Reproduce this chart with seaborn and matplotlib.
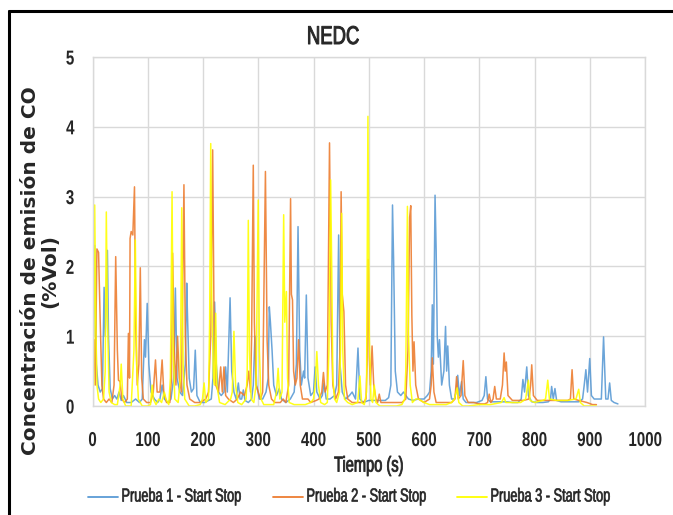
import numpy as np
import pandas as pd
import matplotlib
matplotlib.use("Agg")
import matplotlib.pyplot as plt
from matplotlib.lines import Line2D
from matplotlib.patheffects import AbstractPathEffect
from matplotlib.transforms import Affine2D
import seaborn as sns

# CO concentration (%Vol) over the NEDC cycle, three Start-Stop runs
t1 = [0, 2, 4, 7, 10, 14, 18, 21, 23, 27,
      29, 32, 36, 40, 44, 48, 52, 56, 62, 70,
      78, 85, 90, 94, 96, 99, 102, 106, 112, 118,
      122, 126, 130, 136, 142, 147, 150, 153, 158, 163,
      168, 170.5, 172, 175, 179, 183, 186, 189, 195, 203,
      210, 215, 218, 221, 224, 228, 233, 238, 241, 244,
      249, 252, 256, 260, 264, 267, 270, 273, 276, 282,
      288, 291, 294, 297, 302, 308, 314, 318, 320, 322,
      325, 328, 333, 338, 342, 350, 358, 365, 369, 372,
      375, 378, 382, 384, 387, 390, 395, 400, 403, 406,
      412, 416, 419, 423, 430, 438, 442, 445.5, 448, 452,
      458, 465, 470, 476, 480.5, 484, 490, 500, 510, 520,
      530, 536, 540, 543, 545, 548, 552, 558, 563, 567,
      572, 580, 590, 600, 606, 610, 613, 615, 617, 620,
      622, 624, 626, 628, 632, 636, 639, 641, 643, 646,
      650, 655, 658, 661, 664, 668, 671, 676, 685, 695,
      705, 709, 712, 715, 720, 730, 740, 750, 760, 770,
      776, 779, 782, 786, 789, 795, 805, 815, 825, 829,
      831, 834, 837, 840, 848, 860, 870, 880, 887, 890,
      893, 896, 900, 903, 908, 915, 921, 925, 929, 933,
      936, 939, 944, 951]
co1 = [1.80, 1.00, 2.30, 0.60, 0.30, 0.20, 0.25, 1.70, 1.00, 2.23,
       1.00, 0.25, 0.10, 0.15, 0.10, 0.20, 0.08, 0.15, 0.05, 0.05,
       0.10, 0.05, 0.10, 0.95, 0.70, 1.47, 0.60, 0.20, 0.10, 0.05,
       0.10, 0.30, 0.10, 0.05, 0.10, 0.40, 1.69, 0.40, 0.20, 0.15,
       0.60, 1.76, 1.28, 0.40, 0.20, 0.25, 0.80, 0.15, 0.05, 0.05,
       0.08, 0.10, 0.40, 1.49, 0.60, 0.20, 0.15, 0.20, 0.56, 0.20,
       1.55, 0.50, 0.20, 0.10, 0.33, 0.10, 0.10, 0.23, 0.08, 0.05,
       0.10, 0.30, 1.00, 0.30, 0.10, 0.10, 0.20, 0.40, 1.42, 1.20,
       0.80, 0.30, 0.15, 0.25, 0.10, 0.05, 0.10, 0.20, 0.60, 2.57,
       0.80, 0.30, 0.50, 0.40, 1.59, 0.40, 0.15, 0.20, 0.56, 0.20,
       0.10, 0.15, 0.33, 0.10, 0.10, 0.15, 0.30, 2.45, 0.60, 0.20,
       0.10, 0.15, 0.20, 0.10, 0.83, 0.10, 0.05, 0.08, 0.08, 0.08,
       0.08, 0.12, 0.30, 2.88, 2.09, 0.50, 0.20, 0.15, 0.20, 0.15,
       0.10, 0.08, 0.10, 0.10, 0.15, 0.20, 0.50, 1.45, 0.60, 3.02,
       2.23, 1.00, 0.70, 0.95, 0.30, 0.50, 1.14, 0.50, 0.86, 0.30,
       0.10, 0.10, 0.20, 0.44, 0.15, 0.35, 0.10, 0.05, 0.05, 0.05,
       0.08, 0.15, 0.42, 0.10, 0.06, 0.06, 0.06, 0.06, 0.05, 0.05,
       0.10, 0.38, 0.20, 0.56, 0.15, 0.06, 0.05, 0.05, 0.06, 0.10,
       0.28, 0.10, 0.25, 0.08, 0.06, 0.06, 0.06, 0.06, 0.10, 0.30,
       0.52, 0.20, 0.68, 0.15, 0.10, 0.10, 0.10, 0.99, 0.10, 0.10,
       0.33, 0.08, 0.05, 0.03]

t2 = [0, 3, 5, 8, 11, 14, 17, 20, 25, 30,
      35, 39, 42, 45, 47, 50, 53, 58, 63, 65,
      67, 68, 70, 73, 76, 78, 81, 84, 86.5, 89,
      92, 98, 105, 110, 114, 117, 122, 126, 129, 134,
      140, 143, 145, 148, 151, 154, 157, 161, 165.5, 168,
      171, 176, 185, 195, 205, 210, 214, 217.5, 220, 223,
      228, 232, 235, 238, 241, 246, 255, 262, 268, 275,
      280, 283, 286, 288, 291, 293, 296, 300, 304, 308,
      313, 316, 319, 324, 330, 340, 345, 350, 355, 358.5,
      360, 362, 364, 367, 370, 373, 376, 380, 390, 395,
      405, 410, 415, 418, 421, 425, 429, 432, 435, 440,
      445, 448, 450, 452, 455, 458, 462, 470, 480, 490,
      495, 497, 499, 501, 503, 506, 509, 513, 516, 519,
      522, 530, 540, 550, 560, 567, 571, 574, 576, 578,
      580, 582, 585, 590, 600, 610, 613, 615, 618, 622,
      630, 640, 650, 656, 659, 662, 667, 671, 674, 680,
      690, 700, 710, 715, 718, 721, 725, 728, 731, 738,
      742, 745, 747, 749, 752, 760, 770, 780, 790, 793,
      795, 798, 805, 820, 840, 860, 865, 868, 871, 880,
      895, 905, 912]
co2 = [0.60, 0.95, 0.30, 2.25, 2.20, 1.20, 0.30, 0.10, 0.05, 0.10,
       0.05, 0.30, 2.14, 0.80, 0.37, 0.35, 0.10, 0.05, 0.10, 1.04,
       0.40, 2.40, 2.50, 2.45, 3.14, 1.20, 0.30, 0.60, 1.98, 0.40,
       0.10, 0.05, 0.05, 0.20, 0.66, 0.20, 0.20, 0.66, 0.20, 0.05,
       0.05, 0.40, 2.19, 0.80, 0.30, 1.00, 0.40, 0.20, 3.17, 1.00,
       0.30, 0.10, 0.05, 0.05, 0.10, 0.20, 1.00, 3.67, 1.20, 0.30,
       0.20, 0.56, 0.20, 0.56, 0.15, 0.10, 0.05, 0.10, 0.20, 0.15,
       0.30, 0.50, 0.20, 1.00, 3.45, 1.20, 0.30, 0.20, 0.10, 0.20,
       3.36, 0.95, 0.30, 0.10, 0.05, 0.05, 0.10, 0.05, 0.30, 2.97,
       1.60, 1.52, 0.50, 0.30, 0.40, 0.95, 0.30, 0.10, 0.10, 0.05,
       0.08, 0.10, 0.20, 0.48, 0.20, 0.30, 3.77, 1.20, 0.30, 0.10,
       0.20, 0.80, 3.07, 1.60, 1.35, 0.30, 0.10, 0.05, 0.05, 0.05,
       0.10, 0.60, 2.10, 0.70, 0.30, 0.86, 0.30, 0.10, 0.05, 0.17,
       0.05, 0.05, 0.05, 0.05, 0.05, 0.10, 0.80, 2.70, 2.87, 1.30,
       0.50, 0.92, 0.30, 0.10, 0.05, 0.10, 0.30, 0.69, 0.20, 0.05,
       0.05, 0.05, 0.05, 0.10, 0.42, 0.10, 0.15, 0.65, 0.15, 0.05,
       0.05, 0.03, 0.03, 0.05, 0.17, 0.05, 0.10, 0.28, 0.10, 0.10,
       0.30, 0.76, 0.50, 0.63, 0.15, 0.08, 0.08, 0.08, 0.10, 0.30,
       0.59, 0.15, 0.08, 0.08, 0.08, 0.08, 0.10, 0.52, 0.10, 0.08,
       0.05, 0.02, 0.02]

t3 = [0, 2, 4, 6, 8, 11, 15, 20, 23, 25,
      27, 30, 34, 40, 45, 50, 52, 55, 60, 70,
      73, 75, 77.5, 80, 83, 90, 100, 105, 108, 110,
      115, 120, 125, 130, 133, 138, 141, 144, 146, 149,
      155, 159, 161.5, 164, 167, 175, 185, 195, 199, 202,
      205, 210, 212, 214, 216, 219, 221, 223, 225, 230,
      240, 250, 253, 256, 259, 263, 270, 278, 280, 282,
      284, 287, 292, 296, 300, 302, 305, 310, 320, 328,
      333, 336, 339, 343, 346, 348, 351, 353, 356, 365,
      375, 385, 395, 400, 403, 406, 409, 413, 420, 425,
      428, 431, 433, 435, 438, 442, 447, 449, 451, 453,
      456, 462, 470, 480, 484, 487, 492, 496, 498.5, 501,
      504, 507, 510, 513, 520, 530, 540, 550, 560, 565,
      567, 570, 572, 575, 579, 585, 590, 600, 610, 620,
      630, 640, 650, 655, 660, 663, 670, 680, 700, 720,
      740, 745, 748, 760, 775, 784, 789, 792, 800, 815,
      820, 824, 827, 840, 860, 875, 880, 883, 890, 900,
      912]
co3 = [1.00, 0.30, 2.88, 1.20, 0.30, 0.10, 0.05, 0.10, 0.50, 2.78,
       1.30, 0.20, 0.05, 0.02, 0.02, 0.30, 0.60, 0.10, 0.00, 0.00,
       0.50, 0.80, 2.38, 0.60, 0.10, 0.00, 0.00, 0.02, 0.30, 0.10,
       0.02, 0.10, 0.05, 0.20, 0.10, 0.02, 0.40, 3.07, 0.80, 0.10,
       0.05, 0.40, 2.84, 0.60, 0.10, 0.00, 0.00, 0.02, 0.10, 0.33,
       0.05, 0.10, 1.20, 3.76, 1.50, 0.40, 0.30, 1.33, 0.30, 0.05,
       0.02, 0.10, 0.20, 1.07, 0.30, 0.05, 0.02, 0.10, 0.50, 2.66,
       0.80, 0.10, 0.05, 0.30, 2.95, 0.80, 0.10, 0.02, 0.02, 0.02,
       0.20, 0.54, 0.10, 0.20, 2.74, 1.20, 1.64, 0.40, 0.05, 0.02,
       0.02, 0.02, 0.05, 0.10, 0.30, 0.78, 0.30, 0.05, 0.02, 0.05,
       0.80, 3.24, 1.97, 0.40, 0.10, 0.05, 0.20, 0.80, 2.76, 0.80,
       0.10, 0.05, 0.02, 0.05, 0.43, 0.05, 0.02, 0.20, 4.15, 1.00,
       0.10, 0.05, 0.30, 0.05, 0.00, 0.00, 0.00, 0.00, 0.02, 0.10,
       0.50, 2.86, 1.00, 0.30, 0.05, 0.10, 0.10, 0.05, 0.02, 0.02,
       0.02, 0.02, 0.05, 0.10, 0.26, 0.05, 0.00, 0.00, 0.02, 0.02,
       0.05, 0.12, 0.05, 0.05, 0.05, 0.10, 0.37, 0.08, 0.05, 0.08,
       0.10, 0.37, 0.10, 0.08, 0.08, 0.10, 0.24, 0.05, 0.00, 0.00,
       0.00]

series_names = ["Prueba 1 - Start Stop", "Prueba 2 - Start Stop", "Prueba 3 - Start Stop"]
series_colors = ["#5B9BD5", "#ED7D31", "#FFFF00"]
x_ticks = list(range(0, 1001, 100))
y_ticks = [0, 1, 2, 3, 4, 5]


class Condense(AbstractPathEffect):
    """Squeeze text glyphs horizontally (narrow typeface look), optionally
    thickening them with an outline of the same colour."""

    def __init__(self, sx=0.72, anchor="center", stroke=0.0):
        super().__init__()
        self.sx = sx
        self.anchor = anchor
        self.stroke = stroke

    def draw_path(self, renderer, gc, tpath, affine, rgbFace=None):
        ext = tpath.get_extents()
        if self.anchor == "left":
            x0 = ext.x0
        elif self.anchor == "right":
            x0 = ext.x1
        else:
            x0 = 0.5 * (ext.x0 + ext.x1)
        squeeze = Affine2D().translate(-x0, 0).scale(self.sx, 1).translate(x0, 0)
        gc0 = renderer.new_gc()
        gc0.copy_properties(gc)
        if self.stroke > 0 and rgbFace is not None:
            gc0.set_linewidth(self.stroke)
            gc0.set_foreground(rgbFace)
        renderer.draw_path(gc0, tpath, squeeze + affine, rgbFace)
        gc0.restore()


df = pd.concat([
    pd.DataFrame({"Tiempo": t, "CO": v, "Prueba": name})
    for t, v, name in zip([t1, t2, t3], [co1, co2, co3], series_names)
], ignore_index=True)

sns.set_theme(style="white")
plt.rcParams["font.family"] = ["Liberation Sans", "DejaVu Sans"]

fig = plt.figure(figsize=(6.73, 5.15), dpi=100)
ax = fig.add_axes([92.5 / 673, 1 - 406 / 515, (645 - 92.5) / 673, (406 - 57) / 515])

sns.lineplot(data=df, x="Tiempo", y="CO", hue="Prueba", palette=series_colors,
             estimator=None, sort=False, linewidth=1.1, alpha=0.9, legend=False, ax=ax)

ax.set_xlim(0, 1000)
ax.set_ylim(0, 5)
ax.set_xticks(x_ticks)
ax.set_yticks(y_ticks)
ax.set_xticklabels([str(v) for v in x_ticks], fontsize=14.5, fontweight="bold")
ax.set_yticklabels([str(v) for v in y_ticks], fontsize=14.5, fontweight="bold")
for lab in ax.get_xticklabels():
    lab.set_path_effects([Condense(0.75, "center")])
for lab in ax.get_yticklabels():
    lab.set_path_effects([Condense(0.75, "right")])
ax.tick_params(axis="x", length=0, pad=18)
ax.tick_params(axis="y", length=0, pad=13)
ax.grid(True, color="#D9D9D9", linewidth=1.0)
for sp in ax.spines.values():
    sp.set_color("#D9D9D9")
    sp.set_linewidth(1.0)

ax.set_xlabel("Tiempo (s)", fontsize=15.5, labelpad=4,
              path_effects=[Condense(0.68, "center", stroke=0.6)])
ax.set_ylabel("")

fig.text(333 / 673, 1 - 37 / 515, "NEDC", ha="center", va="center", fontsize=18.5,
         path_effects=[Condense(0.72, "center", stroke=0.7)])

fig.text(40 / 673, 1 - 271 / 515, "Concentración de emisión de CO\n(%Vol)",
         rotation=90, ha="center", va="center", fontsize=14.5, fontweight="bold",
         family=["DejaVu Sans"], linespacing=1.0)

# legend row under the x-axis title
legend_y = 1 - 497 / 515
handle_x = [(88, 118), (273, 303), (457, 487)]
for (xa, xb), name, color in zip(handle_x, series_names, series_colors):
    fig.add_artist(Line2D([xa / 673, xb / 673], [legend_y, legend_y], color=color,
                          linewidth=1.3, transform=fig.transFigure))
    fig.text((xb + 3) / 673, legend_y, name, ha="left", va="center", fontsize=13.5,
             path_effects=[Condense(0.68, "left", stroke=0.5)])

# outer frame (top and left edges)
fig.add_artist(Line2D([9 / 673, 1.0], [1 - 11 / 515, 1 - 11 / 515], color="black",
                      linewidth=2.2, transform=fig.transFigure))
fig.add_artist(Line2D([9 / 673, 9 / 673], [0, 1 - 11 / 515], color="black",
                      linewidth=2.2, transform=fig.transFigure))

fig.savefig("out.png", dpi=100)
